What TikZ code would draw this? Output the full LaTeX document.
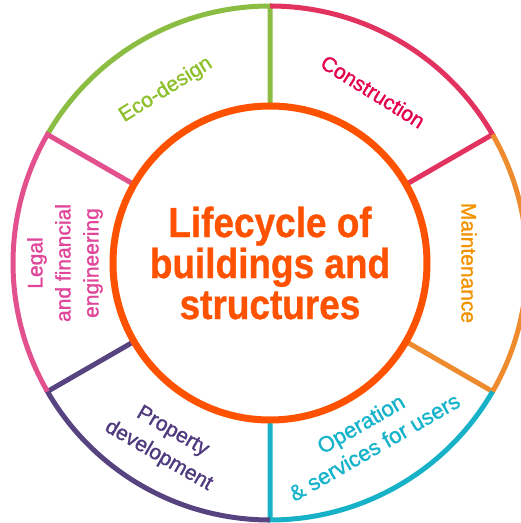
\documentclass[tikz,border=0pt]{standalone}
\usepackage{fontspec}
\setmainfont{Liberation Sans}
\newfontfamily\phasefont[FakeBold=1.2]{Liberation Sans}
\newfontfamily\hubfont[FakeStretch=0.88, FakeBold=0.8]{Liberation Sans Bold}
\definecolor{hubred}{HTML}{FF5200}
\definecolor{ecogreen}{HTML}{8ABD41}
\definecolor{ecotext}{HTML}{8DC02C}
\definecolor{buildred}{HTML}{E2325F}
\definecolor{buildtext}{HTML}{E2004F}
\definecolor{careorange}{HTML}{EE8B2E}
\definecolor{caretext}{HTML}{F29200}
\definecolor{useteal}{HTML}{17B2C7}
\definecolor{usetext}{HTML}{17B3CB}
\definecolor{estatepurple}{HTML}{56437F}
\definecolor{estatetext}{HTML}{4F3A7E}
\definecolor{lawpink}{HTML}{E2508E}
\definecolor{lawtext}{HTML}{E0459A}
\tikzset{
  ring/.style={line width=5pt, line join=miter},
  phase/.style={inner sep=0pt, align=center, font=\phasefont\fontsize{21}{28}\selectfont},
}
\begin{document}
\begin{tikzpicture}[x=1pt, y=1pt]
  \useasboundingbox (0,0) rectangle (521,523);
  \coordinate (c) at (270,260);
  \begin{scope}[shift={(c)}]
    \foreach \a/\col in {90/ecogreen, 30/buildred, -30/careorange, -90/useteal, -150/estatepurple, 150/lawpink}
      \draw[ring, \col] (\a:157) -- (\a:257) arc[start angle=\a, delta angle=60, radius=257];
    \node[phase, text=ecotext, rotate=32] (eco) at (121:202) {Eco-design};
    \node[phase, text=buildtext, rotate=-32] (build) at (59:200) {Construction};
    \node[phase, text=caretext, rotate=-90] (care) at (0:199) {Maintenance};
    \node[phase, text=usetext, rotate=30, font=\phasefont\fontsize{22}{27}\selectfont] (use) at (-60.5:198) {Operation\\ \& services for users};
    \node[phase, text=estatetext, rotate=-30] (estate) at (240:209) {Property\\ development};
    \node[phase, text=lawtext, rotate=90] (law) at (180:205) {Legal\\ and financial\\ engineering};
  \end{scope}
  \draw (c) node[circle, draw=hubred, line width=7pt, minimum size=314pt, text=hubred, align=center,
    font=\hubfont\fontsize{42}{41}\selectfont] (hub) {Lifecycle of\\ buildings and\\ structures};
\end{tikzpicture}
\end{document}
